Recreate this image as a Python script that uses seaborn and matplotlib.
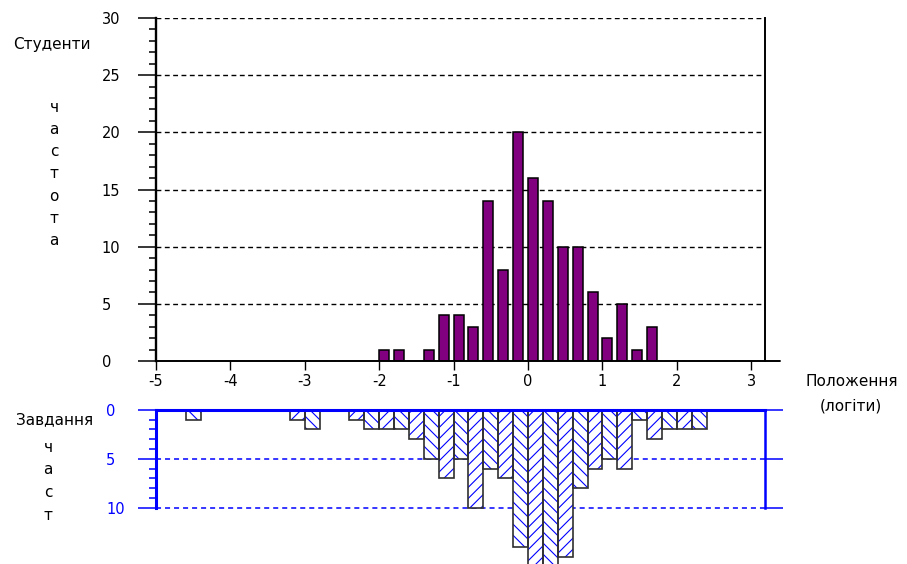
import matplotlib
matplotlib.use("Agg")
import matplotlib.pyplot as plt
from matplotlib.ticker import MultipleLocator
import seaborn as sns
import numpy as np

# Студенти: лівий край інтервалу (логіти) і частота
student_bins = [-2.0, -1.8, -1.4, -1.2, -1.0, -0.8, -0.6, -0.4, -0.2,
                0.0, 0.2, 0.4, 0.6, 0.8, 1.0, 1.2, 1.4, 1.6]
student_counts = [1, 1, 1, 4, 4, 3, 14, 8, 20, 16, 14, 10, 10, 6, 2, 5, 1, 3]

# Завдання: лівий край інтервалу (логіти) і частота
task_bins = [-4.6, -3.2, -3.0, -2.4, -2.2, -2.0, -1.8, -1.6, -1.4, -1.2,
             -1.0, -0.8, -0.6, -0.4, -0.2, 0.0, 0.2, 0.4, 0.6, 0.8,
             1.0, 1.2, 1.4, 1.6, 1.8, 2.0, 2.2]
task_counts = [1, 1, 2, 1, 2, 2, 2, 3, 5, 7,
               5, 10, 6, 7, 14, 18, 17, 15, 8, 6,
               5, 6, 1, 3, 2, 2, 2]

x_ticks = [-5, -4, -3, -2, -1, 0, 1, 2, 3]
student_yticks = [0, 5, 10, 15, 20, 25, 30]
task_yticks = [0, 5, 10]

BIN = 0.2
W, H = 907, 564

sns.set_style("white")
plt.rcParams['font.family'] = ['DejaVu Sans']
plt.rcParams['hatch.linewidth'] = 0.8
plt.rcParams['text.color'] = 'black'
plt.rcParams['xtick.color'] = 'black'
plt.rcParams['ytick.color'] = 'black'


def fx(x):
    return x / W


def fy(y):
    return 1 - y / H


fig = plt.figure(figsize=(W / 100, H / 100), dpi=100)
top = fig.add_axes([fx(156), fy(361), (765 - 156) / W, (361 - 18) / H])
bot = fig.add_axes([fx(156), fy(507.7), (765 - 156) / W, (507.7 - 409.7) / H])

# --- верхня частина: студенти
centers = np.array(student_bins) + BIN * 0.67 / 2
sns.barplot(x=centers, y=student_counts, native_scale=True, orient="x",
            width=0.67, color="#800080", saturation=1, edgecolor="black",
            linewidth=1.1, errorbar=None, ax=top)
top.set_xlim(-5, 3.185)
top.set_ylim(0, 30)
top.set_xticks(x_ticks)
top.set_xticklabels([str(t) for t in x_ticks])
top.set_yticks(student_yticks)
top.yaxis.set_minor_locator(MultipleLocator(1))
top.set_xlabel("")
top.set_ylabel("")
top.set_axisbelow(True)
top.yaxis.grid(True, color="black", linewidth=1.0, linestyle=(0, (3.5, 2.5)))
top.xaxis.grid(False)
top.spines["top"].set_visible(False)
for s in ["left", "right", "bottom"]:
    top.spines[s].set_color("black")
top.spines["left"].set_linewidth(1.7)
top.spines["right"].set_linewidth(1.4)
top.spines["bottom"].set_linewidth(1.4)
top.tick_params(axis="y", which="major", direction="out", length=13, width=1.1,
                pad=26, labelsize=10.5, left=True, labelcolor="black")
top.tick_params(axis="y", which="minor", direction="out", length=5, width=1.1, left=True)
top.tick_params(axis="x", which="major", direction="out", length=6.5, width=1.0,
                pad=3, labelsize=10.5, bottom=True, labelcolor="black")
for lab in top.get_yticklabels():
    lab.set_horizontalalignment("left")
top.plot([1.0, (780 - 156) / 609], [0, 0], transform=top.transAxes,
         color="black", lw=1.4, clip_on=False)

# --- нижня частина: завдання
tcenters = np.array(task_bins) + BIN / 2
sns.barplot(x=tcenters, y=task_counts, native_scale=True, orient="x",
            width=1, color="white", saturation=1, edgecolor="blue",
            linewidth=0, errorbar=None, ax=bot)
for p in bot.patches:
    k = int(round((p.get_x() + 5) / BIN))
    p.set_hatch("///" if k % 2 else "\\\\\\")
sns.barplot(x=tcenters, y=task_counts, native_scale=True, orient="x",
            width=1, color="#303030", saturation=1, fill=False,
            linewidth=1.2, errorbar=None, ax=bot)
for p in bot.patches:
    p.set_clip_on(False)

bot.set_xlim(-5, 3.185)
bot.set_ylim(10, 0)
bot.set_yticks(task_yticks)
bot.yaxis.set_minor_locator(MultipleLocator(1))
bot.set_xticks([])
bot.set_xlabel("")
bot.set_ylabel("")
bot.grid(False)
for yv in task_yticks[1:]:
    bot.axhline(yv, color="blue", linewidth=1.1, linestyle=(0, (3.3, 2.6)),
                clip_on=False, zorder=0.6)
bot.spines["bottom"].set_visible(False)
for s in ["left", "right", "top"]:
    bot.spines[s].set_color("blue")
bot.spines["left"].set_linewidth(2.2)
bot.spines["top"].set_linewidth(2.2)
bot.spines["right"].set_linewidth(1.8)
bot.tick_params(axis="y", which="major", direction="out", length=13, width=1.1,
                pad=23, labelsize=10.5, colors="blue", left=True, right=True)
bot.tick_params(axis="y", which="minor", direction="out", length=5, width=1.1,
                colors="blue", left=True, right=False)
for lab in bot.get_yticklabels():
    lab.set_horizontalalignment("left")

# --- підписи
fig.text(fx(52), fy(45), "Студенти", ha="center", va="center", fontsize=11)
for i, ch in enumerate("частота"):
    fig.text(fx(54), fy(107 + 22.3 * i), ch, ha="center", va="center", fontsize=11)
fig.text(fx(55), fy(420), "Завдання", ha="center", va="center", fontsize=11)
for i, ch in enumerate("част"):
    fig.text(fx(48), fy(447 + 22.7 * i), ch, ha="center", va="center", fontsize=11)
fig.text(fx(852), fy(381), "Положення", ha="center", va="center", fontsize=11)
fig.text(fx(851), fy(406), "(логіти)", ha="center", va="center", fontsize=11)

fig.savefig("out.png", dpi=100)
plt.close(fig)
